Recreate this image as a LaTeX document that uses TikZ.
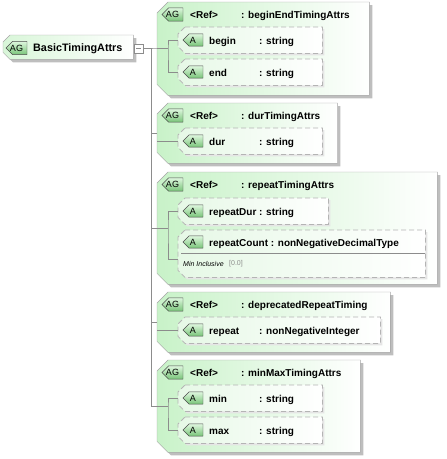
\documentclass[tikz,border=0pt]{standalone}
\usepackage{fontspec}
\setmainfont{Liberation Sans}
\usetikzlibrary{positioning,calc,shapes.misc,shadows}

\definecolor{grpgreen}{RGB}{200,242,200}
\definecolor{attrgreen}{RGB}{230,248,230}
\definecolor{badgetop}{RGB}{222,247,222}
\definecolor{badgebot}{RGB}{120,196,120}
\definecolor{edgegrey}{RGB}{165,165,165}
\definecolor{dashgrey}{RGB}{180,180,180}
\definecolor{linegrey}{RGB}{140,140,140}
\definecolor{shadegrey}{RGB}{190,190,190}

\begin{document}
\begin{tikzpicture}[
        x=1pt, y=-1pt,
        frame/.style={
            rectangle,
            inner sep=0pt,
            anchor=north west
        },
        chamfer/.style={
            to path={
                ($(\tikztostart)+(#1,0)$) -- (\tikztotarget |- \tikztostart) -- (\tikztotarget)
                -- ($(\tikztostart |- \tikztotarget)+(#1,0)$) -- ($(\tikztostart |- \tikztotarget)+(0,-#1)$)
                -- ($(\tikztostart)+(0,#1)$) -- cycle
            }
        },
        grpshape/.style={
            draw=edgegrey,
            left color=grpgreen,
            right color=white,
            drop shadow={shadow xshift=3pt, shadow yshift=-3pt, fill=shadegrey, opacity=1}
        },
        mainshape/.style={
            grpshape,
            left color=grpgreen!70
        },
        attrshape/.style={
            draw=dashgrey,
            dash pattern=on 5pt off 3pt,
            line width=0.8pt,
            left color=attrgreen,
            right color=white,
            drop shadow={shadow xshift=2pt, shadow yshift=-2pt, fill=black!10, opacity=1}
        },
        badge/.style={
            chamfered rectangle,
            chamfered rectangle corners={north west,south west},
            chamfered rectangle sep=3.5pt,
            draw=black!70,
            top color=badgetop,
            bottom color=badgebot,
            inner sep=0pt,
            minimum height=12pt,
            font=\fontsize{9}{10}\selectfont
        },
        agbadge/.style={badge, minimum width=21pt},
        abadge/.style={badge, minimum width=20pt},
        lbl/.style={
            inner sep=0pt,
            anchor=base west,
            font=\fontsize{10}{12}\selectfont\bfseries
        },
        note/.style={
            inner sep=0pt,
            anchor=base west,
            font=\fontsize{7}{8}\selectfont\itshape
        },
        collapse/.style={
            rectangle,
            draw=linegrey,
            fill=white,
            minimum size=9pt,
            inner sep=0pt
        },
        conn/.style={draw=linegrey, line width=0.6pt}
    ]
        \useasboundingbox (0,0) rectangle (447,459);

        % frames of all boxes
        \node[frame, minimum width=130, minimum height=24] (basic) at (3,35)    {};
        \node[frame, minimum width=212, minimum height=93]  (g1) at (157,2)   {};
        \node[frame, minimum width=180, minimum height=60]  (g2) at (157,103) {};
        \node[frame, minimum width=280, minimum height=112] (g3) at (157,172) {};
        \node[frame, minimum width=233, minimum height=60]  (g4) at (157,292) {};
        \node[frame, minimum width=203, minimum height=92]  (g5) at (157,360) {};
        \node[frame, minimum width=144, minimum height=26] (begin)  at (178,27)  {};
        \node[frame, minimum width=144, minimum height=26] (end)    at (178,59)  {};
        \node[frame, minimum width=144, minimum height=26] (dur)    at (178,128) {};
        \node[frame, minimum width=150, minimum height=26] (rdur)   at (178,198) {};
        \node[frame, minimum width=247, minimum height=47] (rcount) at (178,230) {};
        \node[frame, minimum width=202, minimum height=26] (repeat) at (178,317) {};
        \node[frame, minimum width=144, minimum height=26] (min)    at (178,385) {};
        \node[frame, minimum width=144, minimum height=26] (max)    at (178,417) {};

        \path[mainshape] (basic.north west) to[chamfer=7] (basic.south east);
        \foreach \g in {g1,g2,g3,g4,g5}
            \path[grpshape] (\g.north west) to[chamfer=11] (\g.south east);
        \foreach \a in {begin,end,dur,rdur,rcount,repeat,min,max}
            \path[attrshape] (\a.north west) to[chamfer=7] (\a.south east);

        % top element
        \node[agbadge] (basicag) at (16.5,48) {AG};
        \node[lbl, font=\fontsize{10.8}{12}\selectfont\bfseries] (basicname) at (33,51.5) {BasicTimingAttrs};
        \node[collapse] (basiccol) at (138.5,48.5) {};
        \draw[linegrey] ($(basiccol.center)+(-2.5,0)$) -- ($(basiccol.center)+(2.5,0)$);

        % trunk
        \coordinate (trunk) at (151,48.5);
        \draw[conn] (basiccol.east) -- (trunk) |- (g5.west);
        \draw[conn] (trunk) -- (g1.west);
        \draw[conn] (trunk |- g2.west) -- (g2.west);
        \draw[conn] (trunk |- g3.west) -- (g3.west);
        \draw[conn] (trunk |- g4.west) -- (g4.west);

        % beginEndTimingAttrs
        \node[agbadge] (g1ag) at (172.5,14.5) {AG};
        \node[lbl] (g1ref)  at (190,18.5) {<Ref>};
        \node[lbl] (g1name) at (241,18.5) {: beginEndTimingAttrs};
        \node[abadge] (beginbadge) at (193,40) {A};
        \node[lbl] (beginname) at (209,44) {begin};
        \node[lbl] (begintype) at (259,44) {: string};
        \node[abadge] (endbadge) at (193,72) {A};
        \node[lbl] (endname) at (209,76) {end};
        \node[lbl] (endtype) at (259,76) {: string};
        \coordinate (g1spine) at ($(g1.west)+(11,0)$);
        \draw[conn] (g1.west) -- (g1spine);
        \draw[conn] (begin.west) -| (g1spine) |- (end.west);

        % durTimingAttrs
        \node[agbadge] (g2ag) at (172.5,115.5) {AG};
        \node[lbl] (g2ref)  at (190,119.5) {<Ref>};
        \node[lbl] (g2name) at (241,119.5) {: durTimingAttrs};
        \node[abadge] (durbadge) at (193,141) {A};
        \node[lbl] (durname) at (209,145) {dur};
        \node[lbl] (durtype) at (259,145) {: string};
        \draw[conn] (g2.west |- dur.west) -- (dur.west);

        % repeatTimingAttrs
        \node[agbadge] (g3ag) at (172.5,184.5) {AG};
        \node[lbl] (g3ref)  at (190,188.5) {<Ref>};
        \node[lbl] (g3name) at (241,188.5) {: repeatTimingAttrs};
        \node[abadge] (rdurbadge) at (193,211) {A};
        \node[lbl] (rdurname) at (209,215) {repeatDur : string};
        \node[abadge] (rcountbadge) at (193,242) {A};
        \node[lbl] (rcountname) at (209,246) {repeatCount : nonNegativeDecimalType};
        \draw[linegrey, line width=0.5pt] (181,253) -- (425,253);
        \node[note] (rcountfacet) at (183,266) {Min Inclusive};
        \node[note, font=\fontsize{7}{8}\selectfont, text=black!45] (rcountval) at (229,265.5) {[0.0]};
        \coordinate (g3spine) at ($(g3.west)+(11,0)$);
        \draw[conn] (g3.west) -- (g3spine);
        \draw[conn] (rdur.west) -| (g3spine) |- ($(rcount.west)+(0,6)$);

        % deprecatedRepeatTiming
        \node[agbadge] (g4ag) at (172.5,304.5) {AG};
        \node[lbl] (g4ref)  at (190,308.5) {<Ref>};
        \node[lbl] (g4name) at (241,308.5) {: deprecatedRepeatTiming};
        \node[abadge] (repeatbadge) at (193,330) {A};
        \node[lbl] (repeatname) at (209,334) {repeat};
        \node[lbl] (repeattype) at (259,334) {: nonNegativeInteger};
        \draw[conn] (g4.west |- repeat.west) -- (repeat.west);

        % minMaxTimingAttrs
        \node[agbadge] (g5ag) at (172.5,372.5) {AG};
        \node[lbl] (g5ref)  at (190,376.5) {<Ref>};
        \node[lbl] (g5name) at (241,376.5) {: minMaxTimingAttrs};
        \node[abadge] (minbadge) at (193,398) {A};
        \node[lbl] (minname) at (209,402) {min};
        \node[lbl] (mintype) at (259,402) {: string};
        \node[abadge] (maxbadge) at (193,430) {A};
        \node[lbl] (maxname) at (209,434) {max};
        \node[lbl] (maxtype) at (259,434) {: string};
        \coordinate (g5spine) at ($(g5.west)+(11,0)$);
        \draw[conn] (g5.west) -- (g5spine);
        \draw[conn] (min.west) -| (g5spine) |- (max.west);
    \end{tikzpicture}
\end{document}
